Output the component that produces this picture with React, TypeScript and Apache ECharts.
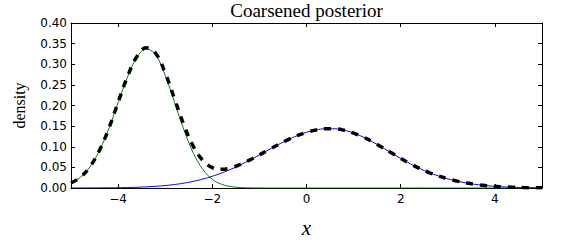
import React, { useEffect, useRef } from "react";
import * as echarts from "echarts";

const xs = [-5.0,-4.8,-4.6,-4.4,-4.2,-4.0,-3.8,-3.6,-3.4,-3.2,-3.0,-2.8,-2.6,-2.4,-2.2,-2.0,-1.8,-1.6,-1.4,-1.2,-1.0,-0.8,-0.6,-0.4,-0.2,0.0,0.2,0.4,0.6,0.8,1.0,1.2,1.4,1.6,1.8,2.0,2.2,2.4,2.6,2.8,3.0,3.2,3.4,3.6,3.8,4.0,4.2,4.4,4.6,4.8,5.0];

const greenComponent = [0.012,0.026,0.051,0.090,0.143,0.207,0.269,0.317,0.337,0.322,0.273,0.207,0.140,0.084,0.045,0.021,0.009,0.0034,0.0012,0.0003,0.0001,0,0,0,0,0,0,0,0,0,0,0,0,0,0,0,0,0,0,0,0,0,0,0,0,0,0,0,0,0,0];

const blueComponent = [0.0001,0.0001,0.0002,0.0003,0.0005,0.0007,0.0012,0.0018,0.0028,0.0041,0.0060,0.0085,0.0118,0.0162,0.0217,0.0284,0.0364,0.0457,0.0563,0.0680,0.0802,0.0928,0.1050,0.1166,0.1268,0.1350,0.1407,0.1436,0.1436,0.1400,0.1332,0.1237,0.1120,0.0990,0.0853,0.0717,0.0590,0.0475,0.0375,0.0292,0.0222,0.0166,0.0121,0.0086,0.0060,0.0041,0.0027,0.0018,0.0011,0.0007,0.0004];

const coarsened = [0.0121,0.0261,0.0512,0.0903,0.1435,0.2077,0.2702,0.3188,0.3398,0.3261,0.2790,0.2155,0.1518,0.1002,0.0667,0.0494,0.0454,0.0491,0.0575,0.0683,0.0803,0.0928,0.1050,0.1166,0.1268,0.1350,0.1407,0.1436,0.1436,0.1400,0.1332,0.1237,0.1120,0.0990,0.0853,0.0717,0.0590,0.0475,0.0375,0.0292,0.0222,0.0166,0.0121,0.0086,0.0060,0.0041,0.0027,0.0018,0.0011,0.0007,0.0004];

const xTicks = [-4, -2, 0, 2, 4];

const pairs = (ys: number[]) => xs.map((x, i) => [x, ys[i]]);

export default function App() {
  const ref = useRef<HTMLDivElement>(null);
  useEffect(() => {
    if (!ref.current) return;
    const chart = echarts.init(ref.current, null, { renderer: "svg" });
    const lineStyle = { color: "#000", width: 1 };
    const tickFont = { fontFamily: "DejaVu Sans", fontSize: 12, color: "#000" };
    chart.setOption({
      animation: false,
      backgroundColor: "#fff",
      title: {
        text: "Coarsened posterior",
        left: 306.5,
        textAlign: "center",
        top: 1,
        padding: 0,
        textStyle: { fontFamily: "Liberation Serif", fontSize: 19, fontWeight: "normal", color: "#000" },
      },
      grid: { left: 71, top: 23, width: 471, height: 170.5, containLabel: false },
      xAxis: [
        {
          type: "value",
          min: -5,
          max: 5,
          position: "bottom",
          axisLine: { show: true, onZero: false, lineStyle },
          axisTick: { show: true, inside: true, length: 4, lineStyle, customValues: xTicks },
          axisLabel: {
            ...tickFont,
            margin: 5,
            customValues: xTicks,
            formatter: (v: number) => String(v).replace("-", "\u2212"),
          },
          splitLine: { show: false },
          name: "x",
          nameLocation: "middle",
          nameGap: 29,
          nameTextStyle: { fontFamily: "Liberation Serif", fontStyle: "italic", fontSize: 21, color: "#000" },
        },
        {
          type: "value",
          min: -5,
          max: 5,
          position: "top",
          axisLine: { show: true, onZero: false, lineStyle },
          axisTick: { show: true, inside: true, length: 4, lineStyle, customValues: xTicks },
          axisLabel: { show: false },
          splitLine: { show: false },
        },
      ],
      yAxis: [
        {
          type: "value",
          min: 0,
          max: 0.4,
          interval: 0.05,
          position: "left",
          axisLine: { show: true, onZero: false, lineStyle },
          axisTick: { show: true, inside: true, length: 4, lineStyle },
          axisLabel: { ...tickFont, margin: 4, formatter: (v: number) => v.toFixed(2) },
          splitLine: { show: false },
          name: "density",
          nameLocation: "middle",
          nameGap: 44,
          nameTextStyle: { fontFamily: "Liberation Serif", fontSize: 16, color: "#000" },
        },
        {
          type: "value",
          min: 0,
          max: 0.4,
          interval: 0.05,
          position: "right",
          axisLine: { show: true, onZero: false, lineStyle },
          axisTick: { show: true, inside: true, length: 4, lineStyle },
          axisLabel: { show: false },
          splitLine: { show: false },
        },
      ],
      series: [
        {
          name: "component 1",
          type: "line",
          data: pairs(greenComponent),
          smooth: 0.4,
          showSymbol: false,
          lineStyle: { color: "#008000", width: 1 },
          z: 2,
        },
        {
          name: "component 2",
          type: "line",
          data: pairs(blueComponent),
          smooth: 0.4,
          showSymbol: false,
          lineStyle: { color: "#0000ff", width: 1 },
          z: 2,
        },
        {
          name: "coarsened posterior",
          type: "line",
          data: pairs(coarsened),
          smooth: 0.4,
          showSymbol: false,
          lineStyle: { color: "#000", width: 3.5, type: [7, 7] },
          z: 3,
        },
      ],
    });
    return () => chart.dispose();
  }, []);
  return (
    <div
      ref={ref}
      style={{ position: "fixed", left: 0, top: 0, width: 586, height: 243, background: "#fff" }}
    />
  );
}
